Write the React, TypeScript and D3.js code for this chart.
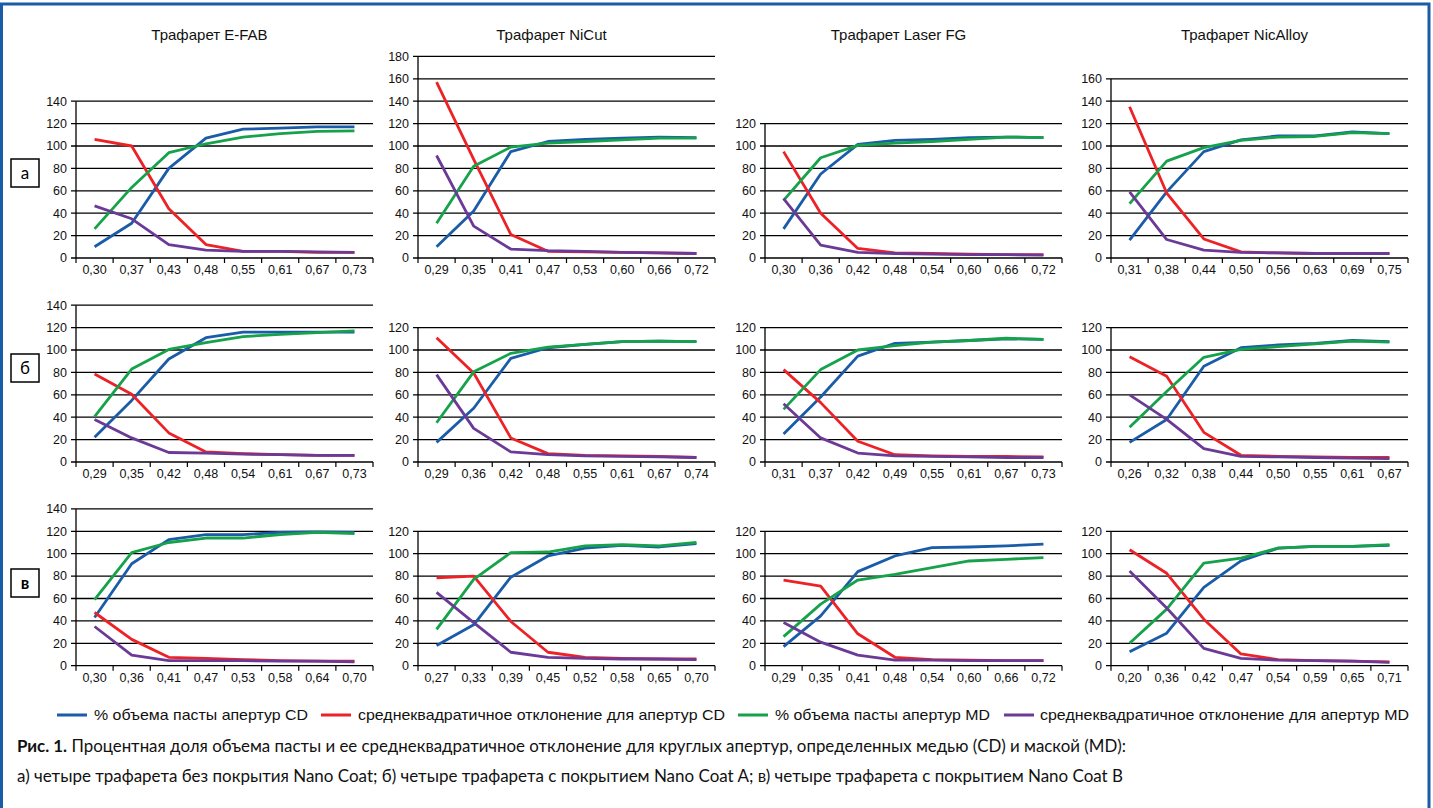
import * as d3 from "d3";

// stencil names and row labels
const stencils = ["Трафарет E-FAB", "Трафарет NiCut", "Трафарет Laser FG", "Трафарет NicAlloy"];
const rowLetters = ["а", "б", "в"];

// y-axis maximum of each panel, row by row
const yMaxA = [140, 180, 120, 160];
const yMaxB = [140, 120, 120, 120];
const yMaxC = [140, 120, 120, 120];

// aperture ratios (x tick labels)
const aperturesA = [
  ["0,30", "0,37", "0,43", "0,48", "0,55", "0,61", "0,67", "0,73"],
  ["0,29", "0,35", "0,41", "0,47", "0,53", "0,60", "0,66", "0,72"],
  ["0,30", "0,36", "0,42", "0,48", "0,54", "0,60", "0,66", "0,72"],
  ["0,31", "0,38", "0,44", "0,50", "0,56", "0,63", "0,69", "0,75"],
];
const aperturesB = [
  ["0,29", "0,35", "0,42", "0,48", "0,54", "0,61", "0,67", "0,73"],
  ["0,29", "0,36", "0,42", "0,48", "0,55", "0,61", "0,67", "0,74"],
  ["0,31", "0,37", "0,42", "0,49", "0,55", "0,61", "0,67", "0,73"],
  ["0,26", "0,32", "0,38", "0,44", "0,50", "0,55", "0,61", "0,67"],
];
const aperturesC = [
  ["0,30", "0,36", "0,41", "0,47", "0,53", "0,58", "0,64", "0,70"],
  ["0,27", "0,33", "0,39", "0,45", "0,52", "0,58", "0,65", "0,70"],
  ["0,29", "0,35", "0,41", "0,48", "0,54", "0,60", "0,66", "0,72"],
  ["0,20", "0,36", "0,42", "0,47", "0,54", "0,59", "0,65", "0,71"],
];

// row а: no coating
const cdVolA = [
  [10, 31, 80, 107, 115, 116, 117, 117],
  [10, 42, 95, 104, 106, 107, 108, 107.5],
  [26, 75, 101.5, 105, 106, 107.5, 108, 107.5],
  [16, 59, 95, 105.5, 109, 109, 112.5, 111],
];
const cdSdA = [
  [106, 100, 44, 12, 6, 6, 5, 5],
  [157, 88, 21, 6, 5.5, 5, 4.5, 4],
  [95, 40, 8.5, 4.5, 4, 3.5, 3, 3],
  [135, 58, 17, 5.5, 4.5, 4, 4, 4],
];
const mdVolA = [
  [26, 63, 94, 102, 108, 111, 113, 113.5],
  [31, 82, 99, 102.5, 104, 105.5, 107, 107],
  [51.5, 89.5, 100.5, 102.5, 104, 106, 108, 107.5],
  [48.5, 86.5, 98.5, 105, 108, 108.5, 112, 111],
];
const mdSdA = [
  [46.5, 35, 12, 7, 6, 6, 5.5, 5],
  [91.5, 28.5, 8, 6.5, 6, 5, 4.5, 4],
  [53, 11.5, 5, 4, 3.5, 3, 3, 2.5],
  [59, 16.5, 7, 5, 4.5, 4, 4, 4],
];

// row б: Nano Coat A
const cdVolB = [
  [22, 55, 92, 111, 116, 116, 116, 116],
  [17.5, 48, 92.5, 102, 105, 107.5, 108, 107.5],
  [25, 58, 94.5, 106, 107, 108.5, 110, 109.5],
  [17.5, 38, 85.5, 102, 104.5, 106, 108.5, 107.5],
];
const cdSdB = [
  [78.5, 60.5, 26, 9, 7.5, 6.5, 6, 6],
  [111, 79.5, 21.5, 7.5, 6, 5.5, 5, 4],
  [82.5, 53, 18.5, 6.5, 5.5, 5, 5, 4.5],
  [94, 76.5, 26.5, 6, 5, 4.5, 4, 4],
];
const mdVolB = [
  [40.5, 83, 100.5, 106.5, 112, 114, 115.5, 117],
  [35, 80.5, 97, 102.5, 105, 107.5, 108, 107.5],
  [47, 82.5, 100, 104, 107, 108.5, 110.5, 109.5],
  [31, 63, 93.5, 100.5, 103, 105.5, 108, 107],
];
const mdSdB = [
  [38, 21.5, 8.5, 8, 7, 6.5, 6, 6],
  [78, 30, 9, 6.5, 5.5, 5, 4.5, 4],
  [52, 21.5, 8, 5.5, 5, 4.5, 4, 4],
  [60, 38, 12, 5, 4.5, 4, 3.5, 3],
];

// row в: Nano Coat B
const cdVolC = [
  [43, 91, 112.5, 117, 117, 119, 119.5, 119],
  [18, 36.5, 79, 98, 105, 107.5, 106, 109],
  [17, 44.5, 84, 98, 105.5, 106, 107, 108.5],
  [12.5, 29, 70, 93.5, 105, 106.5, 106.5, 107.5],
];
const cdSdC = [
  [47.5, 23.5, 7.5, 6.5, 5.5, 4.5, 4, 4],
  [78.5, 80, 39.5, 12, 7.5, 6.5, 6, 6],
  [76.5, 71, 28.5, 7.5, 5.5, 5, 4.5, 4.5],
  [103.5, 82.5, 41.5, 10.5, 5.5, 4.5, 4, 3.5],
];
const mdVolC = [
  [59, 101, 110, 114, 114, 117, 119, 118],
  [32.5, 77, 101, 101.5, 107, 108, 107, 110],
  [26, 55, 76.5, 81.5, 87.5, 93.5, 95, 96.5],
  [20, 50.5, 91.5, 96, 105, 106.5, 106.5, 108],
];
const mdSdC = [
  [35, 9.5, 4.5, 4.5, 4.5, 4, 4, 3.5],
  [65.5, 38.5, 12, 7.5, 6.5, 6, 6, 5.5],
  [38.5, 21, 9.5, 5, 5, 4.5, 4.5, 4.5],
  [84.5, 51.5, 15.5, 6.5, 5, 4.5, 4, 3],
];

const seriesNames = [
  "% объема пасты апертур CD",
  "среднеквадратичное отклонение для апертур CD",
  "% объема пасты апертур MD",
  "среднеквадратичное отклонение для апертур MD",
];
const colors = ["#1b5ca8", "#ec2227", "#16a24a", "#6b3a96"];

const rows = [
  { yMax: yMaxA, apertures: aperturesA, series: [cdVolA, cdSdA, mdVolA, mdSdA] },
  { yMax: yMaxB, apertures: aperturesB, series: [cdVolB, cdSdB, mdVolB, mdSdB] },
  { yMax: yMaxC, apertures: aperturesC, series: [cdVolC, cdSdC, mdVolC, mdSdC] },
];

const W = 1433;
const H = 808;
const colLeft = [76, 418, 765, 1111];
const plotW = 297;
const rowZero = [258, 462, 665.7];
const pxPerUnit = 1.12;
const boxTop = [159, 354, 569];
const chartFont = "'Liberation Sans', Arial, sans-serif";
const captionFont = "Lato, 'Noto Sans', sans-serif";

function Panel({ r, c }: { r: number; c: number }) {
  const row = rows[r];
  const yMax = row.yMax[c];
  const labels = row.apertures[c];
  const zero = rowZero[r];
  const x = d3
    .scaleBand<number>()
    .domain(d3.range(labels.length))
    .range([colLeft[c], colLeft[c] + plotW]);
  const y = d3
    .scaleLinear()
    .domain([0, yMax])
    .range([zero, zero - yMax * pxPerUnit]);
  const ticks = d3.range(0, yMax + 1, 20);
  const line = d3
    .line<number>()
    .x((_, i) => (x(i) as number) + x.bandwidth() / 2)
    .y((d) => y(d));
  const x0 = colLeft[c];
  const x1 = colLeft[c] + plotW;

  return (
    <g>
      {ticks.map((t) => (
        <g key={t}>
          <line x1={x0 - 5} x2={x1} y1={y(t)} y2={y(t)} stroke="#000" strokeWidth={1.3} />
          <text
            x={x0 - 9}
            y={y(t)}
            dy="0.35em"
            textAnchor="end"
            fontSize={12.5}
            fontFamily={chartFont}
            fill="#111"
          >
            {t}
          </text>
        </g>
      ))}
      <line x1={x0} x2={x0} y1={y(yMax)} y2={zero} stroke="#000" strokeWidth={1.3} />
      {d3.range(labels.length + 1).map((i) => {
        const xx = i < labels.length ? (x(i) as number) : x1;
        return <line key={i} x1={xx} x2={xx} y1={zero} y2={zero + 5} stroke="#000" strokeWidth={1.2} />;
      })}
      {labels.map((l, i) => (
        <text
          key={l + i}
          x={(x(i) as number) + x.bandwidth() / 2}
          y={zero + 12}
          dy="0.35em"
          textAnchor="middle"
          fontSize={12.5}
          fontFamily={chartFont}
          fill="#111"
        >
          {l}
        </text>
      ))}
      {row.series.map((s, k) => (
        <path
          key={k}
          d={line(s[c]) || ""}
          fill="none"
          stroke={colors[k]}
          strokeWidth={2.8}
          strokeLinejoin="round"
        />
      ))}
    </g>
  );
}

export default function App() {
  const legendLines = [57, 321, 738, 1004];
  const legendText = [94, 358, 775, 1040];
  const legendWidth = [214, 367, 215, 369];

  return (
    <div style={{ position: "fixed", left: 0, top: 0, width: W, height: H, background: "#fff" }}>
      <svg width={W} height={H} style={{ display: "block" }}>
        <rect width={W} height={H} fill="#fff" />
        <path d={`M1.5,${H} L1.5,4 L1429,4 L1429,${H}`} fill="none" stroke="#1b5ca8" strokeWidth={3} />

        {stencils.map((s, c) => (
          <text
            key={s}
            x={(colLeft[c] - 30 + colLeft[c] + plotW) / 2}
            y={35}
            dy="0.35em"
            textAnchor="middle"
            fontSize={15}
            fontFamily={chartFont}
            fill="#111"
          >
            {s}
          </text>
        ))}

        {rowLetters.map((l, r) => (
          <g key={l}>
            <rect x={11} y={boxTop[r]} width={28} height={28} fill="#fff" stroke="#000" strokeWidth={1.5} />
            <text
              x={25}
              y={boxTop[r] + 14}
              dy="0.35em"
              textAnchor="middle"
              fontSize={17}
              fontWeight={r === 2 ? 700 : 400}
              fontFamily={captionFont}
              fill="#000"
            >
              {l}
            </text>
          </g>
        ))}

        {rows.map((_, r) => stencils.map((_, c) => <Panel key={`${r}-${c}`} r={r} c={c} />))}

        {seriesNames.map((n, k) => (
          <g key={n}>
            <line
              x1={legendLines[k]}
              x2={legendLines[k] + 30}
              y1={715}
              y2={715}
              stroke={colors[k]}
              strokeWidth={3}
            />
            <text
              x={legendText[k]}
              y={715}
              dy="0.35em"
              fontSize={15}
              fontFamily={chartFont}
              textLength={legendWidth[k]}
              lengthAdjust="spacingAndGlyphs"
              fill="#111"
            >
              {n}
            </text>
          </g>
        ))}

        <text
          x={17}
          y={752}
          fontSize={17}
          fontFamily={captionFont}
          fill="#111"
          textLength={1109}
          lengthAdjust="spacingAndGlyphs"
        >
          <tspan fontWeight={700}>Рис. 1.</tspan> Процентная доля объема пасты и ее среднеквадратичное отклонение для
          круглых апертур, определенных медью (CD) и маской (MD):
        </text>
        <text
          x={17}
          y={782}
          fontSize={17}
          fontFamily={captionFont}
          fill="#111"
          textLength={1106}
          lengthAdjust="spacingAndGlyphs"
        >
          а) четыре трафарета без покрытия Nano Coat; б) четыре трафарета с покрытием Nano Coat A; в) четыре трафарета с
          покрытием Nano Coat B
        </text>
      </svg>
    </div>
  );
}
